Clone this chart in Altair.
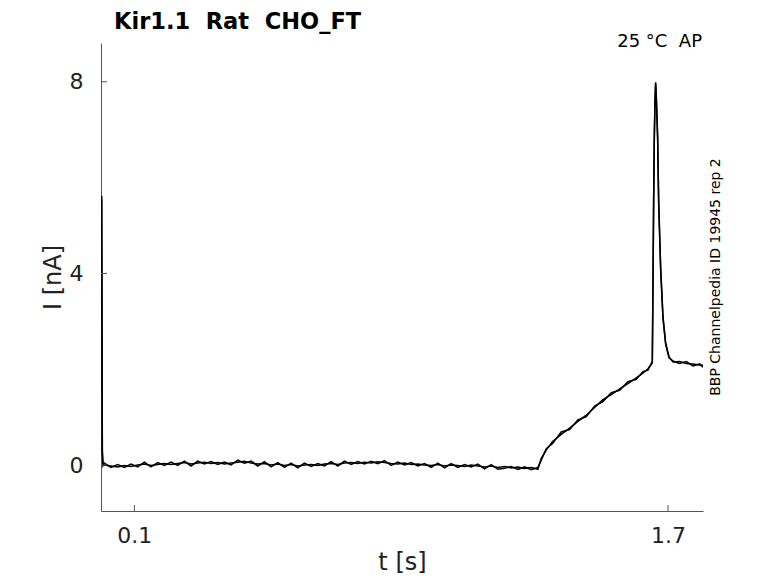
import altair as alt
import pandas as pd

NB = "\u00a0"
title_text = "Kir1.1 " + NB + "Rat " + NB + "CHO_FT"
cond_text = "25 °C " + NB + "AP"
side_text = "BBP Channelpedia ID 19945 rep 2"

x_ticks = [0.1, 1.7]
y_ticks = [0, 4, 8]

# initial capacitive transient
t_start = [0.002, 0.004, 0.006]
i_start_a = [5.62, 0.30, 0.02]
i_start_b = [5.55, 0.25, -0.01]

# baseline
t_base = [
    0.01, 0.03, 0.05, 0.07, 0.09, 0.11, 0.13, 0.15, 0.17, 0.19,
    0.21, 0.23, 0.25, 0.27, 0.29, 0.31, 0.33, 0.35, 0.37, 0.39,
    0.41, 0.43, 0.45, 0.47, 0.49, 0.51, 0.53, 0.55, 0.57, 0.59,
    0.61, 0.63, 0.65, 0.67, 0.69, 0.71, 0.73, 0.75, 0.77, 0.79,
    0.81, 0.83, 0.85, 0.87, 0.89, 0.91, 0.93, 0.95, 0.97, 0.99,
    1.01, 1.03, 1.05, 1.07, 1.09, 1.11, 1.13, 1.15, 1.17, 1.19,
    1.21, 1.23, 1.25, 1.27, 1.29]
i_base_a = [
    0.00, -0.02, -0.04, -0.01, -0.03, 0.00, 0.02, -0.01, 0.01, 0.03,
    0.01, 0.03, 0.05, 0.02, 0.04, 0.06, 0.03, 0.05, 0.02, 0.04,
    0.06, 0.08, 0.04, 0.02, 0.03, 0.00, 0.02, -0.01, 0.01, -0.02,
    0.00, 0.01, -0.01, 0.02, 0.03, 0.01, 0.04, 0.05, 0.03, 0.06,
    0.04, 0.07, 0.05, 0.03, 0.02, 0.04, 0.01, 0.02, 0.00, -0.01,
    0.01, -0.02, 0.00, -0.01, -0.03, 0.00, -0.02, -0.04, -0.02, -0.05,
    -0.03, -0.06, -0.04, -0.07, -0.05]
i_base_b = [
    0.04, -0.05, 0.01, -0.05, 0.02, -0.04, 0.06, -0.04, 0.05, -0.01,
    0.06, -0.01, 0.08, -0.02, 0.08, 0.02, 0.07, 0.01, 0.06, 0.00,
    0.10, 0.04, 0.08, -0.02, 0.07, -0.04, 0.05, -0.05, 0.04, -0.06,
    0.04, -0.03, 0.03, -0.02, 0.07, -0.02, 0.08, 0.01, 0.07, 0.02,
    0.08, 0.03, 0.09, -0.01, 0.06, 0.00, 0.05, -0.02, 0.03, -0.05,
    0.04, -0.06, 0.03, -0.05, 0.01, -0.04, 0.02, -0.08, 0.01, -0.09,
    -0.07, -0.03, -0.09, -0.04, -0.10]

# ramp of the AP waveform
t_ramp = [1.310, 1.320, 1.335, 1.354, 1.380, 1.405, 1.430, 1.455, 1.480,
          1.504, 1.530, 1.555, 1.580, 1.605, 1.625, 1.640, 1.653]
i_ramp_a = [-0.09, 0.14, 0.31, 0.49, 0.64, 0.77, 0.91, 1.04, 1.20,
            1.36, 1.47, 1.59, 1.70, 1.82, 1.92, 2.01, 2.13]
i_ramp_b = [-0.05, 0.10, 0.34, 0.45, 0.69, 0.74, 0.94, 1.01, 1.23,
            1.32, 1.51, 1.56, 1.74, 1.79, 1.95, 1.98, 2.16]

# spike and tail
t_spike = [1.655, 1.657, 1.659, 1.661, 1.663, 1.665, 1.667, 1.669, 1.672,
           1.678, 1.685, 1.693, 1.703, 1.715, 1.734, 1.755, 1.775, 1.795, 1.805]
i_spike_a = [3.80, 5.54, 6.86, 7.60, 7.99, 7.70, 7.30, 6.86, 5.54,
             4.14, 3.10, 2.55, 2.26, 2.15, 2.16, 2.12, 2.11, 2.09, 2.08]
i_spike_b = [3.70, 5.48, 6.80, 7.56, 7.96, 7.66, 7.25, 6.80, 5.48,
             4.08, 3.06, 2.52, 2.24, 2.17, 2.12, 2.16, 2.07, 2.11, 2.04]

rows = []
t_all = t_start + t_base + t_ramp + t_spike
for rep, vals in (("a", i_start_a + i_base_a + i_ramp_a + i_spike_a),
                  ("b", i_start_b + i_base_b + i_ramp_b + i_spike_b)):
    for k, (t, v) in enumerate(zip(t_all, vals)):
        rows.append({"rep": rep, "t": t, "I": v, "order": k})
df = pd.DataFrame(rows)

W, H = 602, 468
AX = "#555555"
LAB = "#222222"
FONT = "DejaVu Sans"

xscale = alt.Scale(domain=[0, 1.805], nice=False, zero=False)
yscale = alt.Scale(domain=[-0.96, 8.81], nice=False, zero=False)

lines = alt.Chart(df).mark_line(color="black", strokeWidth=1.5, clip=True).encode(
    x=alt.X("t:Q", scale=xscale, axis=alt.Axis(
        values=x_ticks, format=".1f", ticks=False, grid=False,
        domainColor=AX, labelColor=LAB, labelFontSize=22, labelPadding=14,
        labelFont=FONT, labelFlush=False,
        title="t [s]", titleFont=FONT, titleFontSize=24, titleFontWeight="normal",
        titleColor=LAB, titleX=W / 2, titleY=58, titleBaseline="alphabetic",
        titleAlign="center")),
    y=alt.Y("I:Q", scale=yscale, axis=alt.Axis(
        values=y_ticks, format="d", ticks=False, grid=False,
        domainColor=AX, labelColor=LAB, labelFontSize=22, labelPadding=18,
        labelFont=FONT,
        title="I [nA]", titleFont=FONT, titleFontSize=24, titleFontWeight="normal",
        titleColor=LAB, titleX=-41, titleY=H / 2, titleAngle=270,
        titleBaseline="alphabetic", titleAlign="center")),
    detail="rep:N",
    order="order:Q",
)

xt = alt.Chart(pd.DataFrame({"t": x_ticks})).mark_rule(color=AX, strokeWidth=1).encode(
    x="t:Q", y=alt.value(H), y2=alt.value(H - 6))
yt = alt.Chart(pd.DataFrame({"I": y_ticks})).mark_rule(color=AX, strokeWidth=1).encode(
    y="I:Q", x=alt.value(0), x2=alt.value(6))

title = alt.Chart(pd.DataFrame({"s": [title_text]})).mark_text(
    font=FONT, fontSize=22.5, fontWeight="bold", align="left", baseline="alphabetic",
    color="black").encode(x=alt.value(13), y=alt.value(-14), text="s:N")
cond = alt.Chart(pd.DataFrame({"s": [cond_text]})).mark_text(
    font=FONT, fontSize=18, align="right", baseline="alphabetic",
    color="black").encode(x=alt.value(601), y=alt.value(4), text="s:N")
side = alt.Chart(pd.DataFrame({"s": [side_text]})).mark_text(
    font=FONT, fontSize=14, align="center", baseline="alphabetic", angle=270,
    color="black").encode(x=alt.value(619), y=alt.value(H / 2), text="s:N")

chart = alt.layer(lines, xt, yt, title, cond, side).properties(
    width=W, height=H,
    padding={"left": 93, "top": 35, "right": 67, "bottom": 64},
    autosize=alt.AutoSizeParams(type="none"),
).configure_view(stroke=None)

chart.save("out.html", embed_options={"renderer": "svg", "actions": False})
